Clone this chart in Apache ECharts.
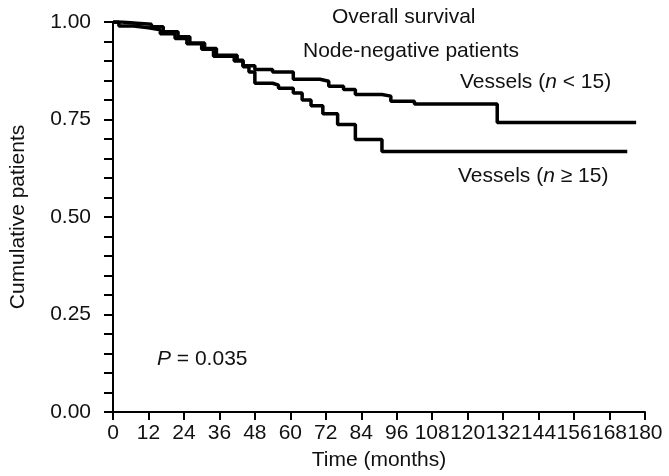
<!DOCTYPE html>
<html>
<head>
<meta charset="utf-8">
<script src="https://cdn.jsdelivr.net/npm/echarts@6/dist/echarts.min.js"></script>
<style>
  html, body { margin: 0; padding: 0; background: #fff; }
  #chart { width: 669px; height: 476px; }
</style>
</head>
<body>
<div id="chart"></div>
<script>
  // survival curves (time in months, cumulative proportion)
  var lowTimes = [0, 3, 8, 13, 17, 22, 26, 31, 35, 42, 44, 48, 54, 61, 70, 73, 78, 82, 91, 94, 102, 130, 177];
  var lowSurv = [1.0, 0.997, 0.994, 0.988, 0.975, 0.962, 0.946, 0.932, 0.915, 0.902, 0.888, 0.878, 0.872, 0.853, 0.848, 0.835, 0.827, 0.814, 0.81, 0.797, 0.79, 0.742, 0.742];

  var highTimes = [0, 2, 7, 12, 16, 21, 25, 30, 34, 41, 44, 46, 48, 54, 56, 61, 64, 67, 71, 76, 82, 91, 174];
  var highSurv = [1.0, 0.99, 0.985, 0.98, 0.97, 0.958, 0.944, 0.93, 0.912, 0.9, 0.885, 0.872, 0.843, 0.838, 0.83, 0.818, 0.8, 0.785, 0.765, 0.737, 0.699, 0.668, 0.668];

  var xTicks = [0, 12, 24, 36, 48, 60, 72, 84, 96, 108, 120, 132, 144, 156, 168, 180];
  var yLabels = ['0.00', '0.25', '0.50', '0.75', '1.00'];

  var font = 'Liberation Sans';
  var fs = 21;

  function pairs(ts, ss) {
    var arr = [];
    for (var i = 0; i < ts.length; i++) arr.push([ts[i], ss[i]]);
    return arr;
  }

  function note(text, left, top) {
    return {
      text: text,
      left: left,
      top: top,
      padding: 0,
      textStyle: {
        fontFamily: font, fontSize: fs, fontWeight: 'normal', color: '#111',
        rich: {
          i: { fontFamily: font, fontSize: fs, fontStyle: 'italic', color: '#111' },
          t: { fontFamily: font, fontSize: fs, color: '#111' }
        }
      }
    };
  }

  var chart = echarts.init(document.getElementById('chart'));
  chart.setOption({
    animation: false,
    title: [
      note('Overall survival', 332, 7),
      note('Node-negative patients', 303, 41),
      note('{t|Vessels (}{i|n}{t| < 15)}', 460, 72),
      note('{t|Vessels (}{i|n}{t| ≥ 15)}', 458, 166),
      note('{i|P}{t| = 0.035}', 157, 349)
    ],
    grid: { left: 112, right: 24, top: 22, bottom: 62 },
    xAxis: {
      type: 'value',
      min: xTicks[0],
      max: xTicks[xTicks.length - 1],
      interval: 12,
      name: 'Time (months)',
      nameLocation: 'middle',
      nameGap: 38,
      nameTextStyle: { fontFamily: font, fontSize: fs, color: '#111' },
      axisLine: { lineStyle: { color: '#000', width: 2 } },
      axisTick: { length: 8, lineStyle: { color: '#000', width: 2 } },
      axisLabel: { margin: 11, fontFamily: font, fontSize: fs, color: '#111' },
      splitLine: { show: false }
    },
    yAxis: {
      type: 'value',
      min: 0,
      max: 1,
      interval: 0.05,
      name: 'Cumulative patients',
      nameLocation: 'middle',
      nameGap: 84,
      nameTextStyle: { fontFamily: font, fontSize: fs, color: '#111' },
      axisLine: { show: true, lineStyle: { color: '#000', width: 2 } },
      axisTick: { show: true, length: 9, lineStyle: { color: '#000', width: 2 } },
      axisLabel: {
        margin: 22, fontFamily: font, fontSize: fs, color: '#111',
        formatter: function (v) {
          var k = Math.round(v * 100);
          if (k % 25 !== 0) return '';
          return yLabels[k / 25];
        }
      },
      splitLine: { show: false }
    },
    series: [
      {
        name: 'Vessels (n < 15)',
        type: 'line',
        step: 'end',
        showSymbol: false,
        lineStyle: { color: '#000', width: 3.5 },
        data: pairs(lowTimes, lowSurv)
      },
      {
        name: 'Vessels (n ≥ 15)',
        type: 'line',
        step: 'end',
        showSymbol: false,
        lineStyle: { color: '#000', width: 3.5 },
        data: pairs(highTimes, highSurv)
      }
    ]
  });
</script>
</body>
</html>
